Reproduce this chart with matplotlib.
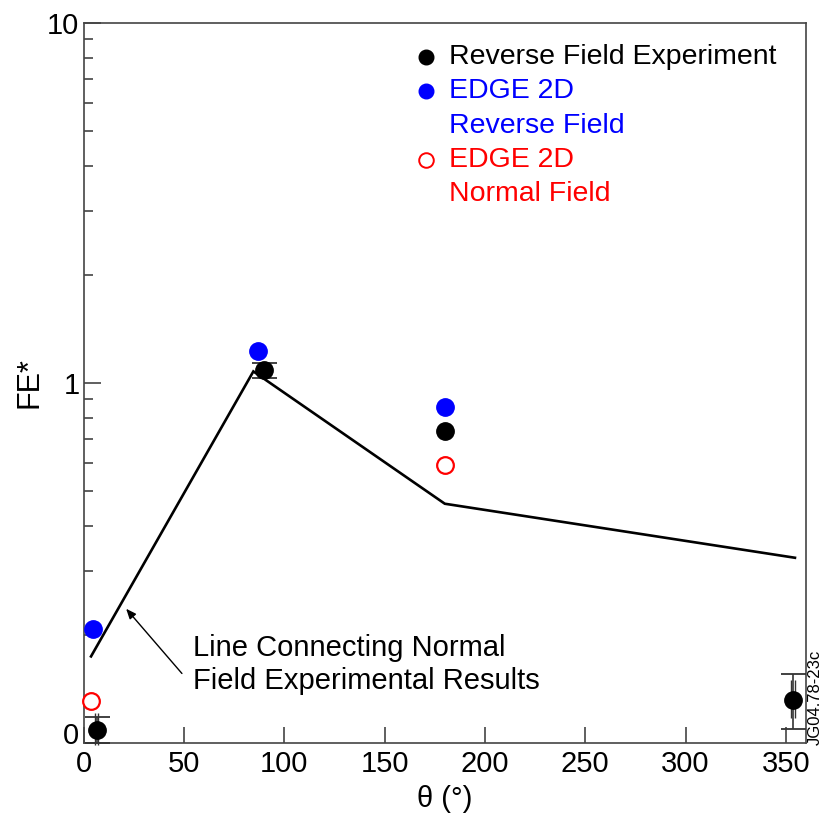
import numpy as np
import matplotlib
matplotlib.use("Agg")
import matplotlib.pyplot as plt
from matplotlib.ticker import FixedLocator, NullFormatter
from matplotlib.transforms import ScaledTranslation

plt.rcParams['font.family'] = ['Liberation Sans', 'DejaVu Sans']

# ===== data =====
# reverse field experiment (black filled); nan = no error bar
exp_theta = [6.5, 90.0, 180.0, 353.5]
exp_fe = [0.109, 1.089, 0.734, 0.132]
exp_lo = [0.100, 1.034, np.nan, 0.1096]
exp_hi = [0.118, 1.140, np.nan, 0.155]
# inner (double) bars
exp_in_lo = [0.099, 1.06, np.nan, 0.117]
exp_in_hi = [0.121, 1.12, np.nan, 0.150]

# EDGE 2D reverse field (blue)
rev_theta = [4.8, 87.1, 180.2]
rev_fe = [0.207, 1.227, 0.855]

# EDGE 2D normal field (red open)
norm_theta = [3.5, 180.2]
norm_fe = [0.131, 0.593]

# line connecting normal field experimental results
line_theta = [3.7, 84.6, 180.0, 354.5]
line_fe = [0.174, 1.077, 0.462, 0.327]

xticks = [0, 50, 100, 150, 200, 250, 300, 350]
ytick_vals = [0.1, 1, 10]
ytick_labels = ['0', '1', '10']

fig = plt.figure(figsize=(8.27, 8.18), dpi=100)
ax = fig.add_axes([83.6 / 827, 75 / 818, 722.4 / 827, 720 / 818])

ax.set_yscale('log')
ax.set_xlim(0, 360)
ax.set_ylim(0.1, 10)

# connecting line
ax.plot(line_theta, line_fe, color='black', lw=1.9, solid_joinstyle='miter', zorder=2)

# error bars (skip points without them)
has_err = ~np.isnan(exp_lo)
ex = np.array(exp_theta)[has_err]
ey = np.array(exp_fe)[has_err]
lo = ey - np.array(exp_lo)[has_err]
hi = np.array(exp_hi)[has_err] - ey
ax.errorbar(ex, ey, yerr=[lo, hi], fmt='none', ecolor='#333333',
            elinewidth=1.2, capsize=9, capthick=1.3, zorder=3, clip_on=False)
for dx in (-0.85, 0.85):
    ax.vlines(ex + dx, np.array(exp_in_lo)[has_err], np.array(exp_in_hi)[has_err],
              color='#333333', lw=1.0, zorder=3, clip_on=False)

ax.plot(exp_theta, exp_fe, 'o', color='black', ms=12.5, zorder=4, clip_on=False)
ax.plot(rev_theta, rev_fe, 'o', color='#0000ff', ms=12.5, zorder=4, clip_on=False)
ax.plot(norm_theta, norm_fe, 'o', mfc='white', mec='#ff0000', mew=1.6, ms=12,
        zorder=4, clip_on=False)

# annotation
ax.annotate('', xy=(21.2, 0.236), xytext=(49, 0.156),
            arrowprops=dict(arrowstyle='-|>,head_length=0.6,head_width=0.25',
                            color='black', lw=1.0, shrinkA=0, shrinkB=0))
ax.text(54.6, 0.1656, 'Line Connecting Normal\nField Experimental Results',
        fontsize=21, va='center', ha='left', linespacing=1.22)

# legend drawn by hand
fs_leg = 20.5
mx, tx = 0.474, 0.506
rows = [0.953, 0.905, 0.857, 0.810, 0.763]
ax.plot([mx], [rows[0]], 'o', color='black', ms=10.5, transform=ax.transAxes)
ax.text(tx, rows[0], 'Reverse Field Experiment', color='black', fontsize=fs_leg,
        va='center', transform=ax.transAxes)
ax.plot([mx], [rows[1]], 'o', color='#0000ff', ms=10.5, transform=ax.transAxes)
ax.text(tx, rows[1], 'EDGE 2D', color='#0000ff', fontsize=fs_leg, va='center',
        transform=ax.transAxes)
ax.text(tx, rows[2], 'Reverse Field', color='#0000ff', fontsize=fs_leg, va='center',
        transform=ax.transAxes)
ax.plot([mx], [rows[3]], 'o', mfc='white', mec='#ff0000', mew=1.4, ms=10.5,
        transform=ax.transAxes)
ax.text(tx, rows[3], 'EDGE 2D', color='#ff0000', fontsize=fs_leg, va='center',
        transform=ax.transAxes)
ax.text(tx, rows[4], 'Normal Field', color='#ff0000', fontsize=fs_leg, va='center',
        transform=ax.transAxes)

# axes styling
ax.set_xticks(xticks)
ax.set_xticklabels([str(v) for v in xticks])
ax.yaxis.set_major_locator(FixedLocator(ytick_vals))
ax.set_yticklabels(ytick_labels)
minors = [m * d for d in (0.1, 1) for m in range(2, 10)]
ax.yaxis.set_minor_locator(FixedLocator(minors))
ax.yaxis.set_minor_formatter(NullFormatter())
ax.tick_params(axis='both', which='major', direction='in', labelsize=21,
               color='#444444', width=1.2)
ax.tick_params(axis='x', which='major', length=11.5, pad=5)
ax.tick_params(axis='y', which='major', length=12, pad=3)
ax.tick_params(axis='y', which='minor', direction='in', length=6.5,
               color='#444444', width=1.2)
ax.tick_params(axis='x', which='minor', bottom=False)
for s in ax.spines.values():
    s.set_color('#444444')
    s.set_linewidth(1.2)

# lift the "0" label a little like the original
for lab in ax.get_yticklabels():
    if lab.get_text() == '0':
        lab.set_transform(lab.get_transform() +
                          ScaledTranslation(0, 10 / 100, fig.dpi_scale_trans))

ax.set_xlabel('θ (°)', fontsize=21, labelpad=5)
ax.set_ylabel('FE*', fontsize=22, labelpad=2)

fig.text(815 / 827, 1 - 745 / 818, 'JG04.78-23c', rotation=90, fontsize=12,
         ha='center', va='bottom')

fig.savefig('out.png', dpi=100)
